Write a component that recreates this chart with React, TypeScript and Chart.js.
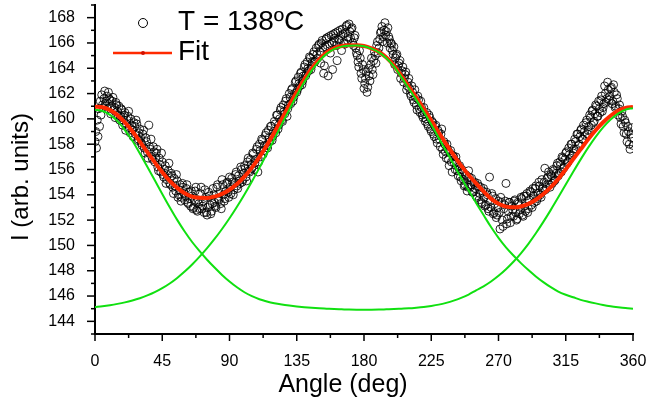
import { useEffect, useRef } from 'react';
import { Chart, registerables } from 'chart.js';

Chart.register(...registerables);

// ---------- DATA ----------
const seriesLabel = 'T = 138ºC';
const fitLabel = 'Fit';
const xTitle = 'Angle (deg)';
const yTitle = 'I (arb. units)';

const xTickValues = [0, 45, 90, 135, 180, 225, 270, 315, 360];
const yTickValues = [144, 146, 148, 150, 152, 154, 156, 158, 160, 162, 164, 166, 168];

// measured intensity, first pass: one value per degree starting at 0 deg
const scanStart = 0;
const scanStep = 1;
const scanIntensity = [
  158.2, 157.7, 158.6, 159.4, 160.3, 161.1, 161.6, 161.2, 161.8, 162.1,
  161.5, 161.0, 161.7, 160.9, 161.3, 160.6, 161.0, 160.2, 160.7, 159.9,
  160.5, 159.6, 160.2, 159.3, 160.0, 159.1, 159.7, 158.8, 159.6, 158.4,
  159.2, 158.1, 158.8, 157.7, 158.5, 157.4, 159.5, 157.6, 157.0, 157.8,
  156.6, 157.3, 156.2, 156.9, 155.8, 156.6, 155.4, 156.3, 155.2, 155.9,
  154.9, 155.7, 154.6, 155.3, 154.3, 155.1, 154.0, 154.8, 153.8, 154.6,
  153.6, 154.5, 153.4, 154.2, 153.1, 153.9, 153.0, 154.3, 152.8, 153.6,
  152.9, 154.6, 153.1, 152.6, 153.8, 152.4, 154.2, 153.2, 152.7, 154.5,
  153.4, 153.0, 154.8, 153.6, 153.3, 155.2, 154.0, 153.7, 154.9, 154.2,
  155.4, 154.1, 155.0, 154.4, 155.6, 154.7, 155.5, 154.9, 156.0, 155.2,
  156.3, 155.4, 156.6, 155.9, 156.8, 156.1, 157.2, 156.5, 157.6, 155.8,
  158.0, 157.0, 158.3, 157.5, 158.7, 157.9, 159.1, 158.2, 159.4, 158.6,
  159.8, 158.9, 160.3, 159.5, 160.7, 159.9, 161.1, 160.4, 161.6, 160.8,
  162.0, 161.2, 162.4, 161.7, 162.9, 162.1, 163.3, 162.6, 163.7, 163.0,
  164.1, 163.4, 164.5, 163.8, 164.8, 164.2, 165.1, 164.5, 165.6, 164.8,
  165.9, 164.4, 166.2, 163.6, 165.7, 166.4, 163.4, 165.9, 166.6, 163.9,
  166.1, 166.8, 164.6, 166.3, 167.0, 165.4, 166.7, 165.9, 167.3, 166.2,
  167.5, 166.4, 167.2, 165.8, 166.6, 165.2, 164.5, 165.4, 163.6, 164.3,
  162.4, 163.2, 162.1, 164.0, 163.0, 164.8, 163.5, 165.3, 164.4, 166.1,
  165.6, 166.8, 167.3, 166.5, 167.6, 166.9, 167.2, 166.3, 166.0, 165.4,
  165.7, 164.8, 165.1, 164.2, 164.6, 163.6, 164.1, 163.2, 163.7, 162.6,
  163.2, 162.0, 162.6, 161.5, 162.3, 161.1, 161.8, 160.8, 161.4, 160.3,
  160.9, 159.8, 160.5, 159.4, 160.1, 159.0, 159.7, 158.6, 159.5, 158.1,
  158.9, 157.8, 159.2, 157.2, 158.0, 156.9, 157.6, 156.3, 157.5, 155.8,
  157.0, 156.0, 156.6, 155.5, 156.3, 155.1, 155.8, 154.7, 155.6, 154.3,
  155.9, 154.6, 155.3, 154.2, 155.0, 153.9, 154.9, 153.6, 154.6, 153.3,
  154.5, 153.1, 154.2, 152.9, 155.4, 153.0, 153.9, 152.6, 153.7, 152.4,
  153.5, 151.3, 153.4, 151.5, 153.2, 154.9, 152.1, 153.4, 151.8, 153.1,
  152.3, 153.6, 152.0, 153.4, 152.5, 153.8, 152.4, 153.9, 152.7, 154.1,
  152.9, 154.3, 153.2, 154.5, 153.4, 154.7, 153.7, 155.0, 154.0, 155.2,
  154.3, 156.1, 154.6, 155.4, 154.8, 155.6, 154.9, 155.9, 155.2, 156.3,
  155.5, 156.6, 155.8, 156.9, 156.2, 157.3, 156.5, 157.7, 156.9, 158.0,
  157.3, 158.4, 157.6, 158.8, 158.0, 159.1, 158.4, 159.5, 158.7, 159.9,
  159.1, 160.3, 159.5, 160.7, 159.8, 161.1, 160.2, 161.4, 160.5, 161.8,
  160.9, 162.6, 161.3, 162.9, 161.5, 162.4, 161.2, 162.7, 160.9, 161.9,
  160.3, 161.1, 159.6, 160.2, 158.9, 159.7, 158.2, 159.0, 157.6, 158.5,
  157.9,
];

// measured intensity, second pass: one value per degree starting at 0.5 deg
const scan2Start = 0.5;
const scan2Step = 1;
const scan2Intensity = [
  159.0, 159.9, 160.8, 161.4, 161.9, 160.9, 162.2, 161.4, 160.8, 161.6,
  160.4, 161.4, 160.7, 160.1, 161.1, 160.3, 159.9, 160.8, 159.5, 160.3,
  159.1, 159.9, 160.6, 158.9, 159.5, 158.6, 159.4, 159.9, 158.3, 158.9,
  158.5, 157.9, 159.1, 157.3, 158.2, 156.9, 157.8, 158.4, 156.8, 157.4,
  156.9, 157.6, 155.9, 156.4, 157.3, 155.6, 156.0, 154.9, 155.6, 156.5,
  154.8, 155.5, 154.1, 154.7, 155.6, 153.8, 154.4, 153.5, 154.9, 154.1,
  153.9, 154.8, 153.3, 153.7, 154.3, 152.9, 153.5, 154.6, 152.7, 153.3,
  154.1, 152.9, 153.5, 154.4, 152.6, 153.0, 153.9, 152.5, 153.3, 154.0,
  153.1, 154.6, 153.7, 154.1, 152.9, 154.8, 153.5, 154.3, 155.0, 153.8,
  154.6, 155.3, 154.0, 154.9, 155.8, 154.5, 155.1, 156.2, 155.0, 155.7,
  156.1, 155.1, 156.9, 155.8, 156.4, 157.3, 156.0, 156.8, 157.8, 156.6,
  157.5, 158.4, 157.2, 157.9, 158.9, 157.7, 158.5, 159.4, 158.3, 159.0,
  159.6, 160.3, 159.2, 160.0, 160.9, 159.8, 160.6, 161.4, 160.2, 161.1,
  161.7, 162.3, 161.4, 162.0, 163.0, 162.3, 162.8, 163.6, 162.7, 163.4,
  164.3, 163.6, 164.0, 164.9, 163.9, 164.5, 165.3, 164.6, 165.1, 165.8,
  165.3, 166.0, 165.6, 164.2, 166.3, 165.8, 166.5, 165.2, 166.0, 166.7,
  166.4, 165.8, 166.9, 166.2, 166.6, 167.1, 166.0, 166.8, 167.4, 166.5,
  166.9, 167.1, 166.0, 166.4, 165.6, 165.0, 164.1, 164.8, 163.2, 163.9,
  162.8, 163.7, 162.5, 163.4, 164.3, 163.9, 164.6, 165.0, 165.8, 165.2,
  166.3, 166.9, 166.1, 167.0, 166.6, 166.0, 166.5, 165.6, 165.9, 165.1,
  164.3, 165.0, 163.9, 164.4, 163.2, 163.8, 162.9, 163.5, 162.3, 162.9,
  162.4, 161.8, 162.1, 161.3, 161.7, 160.7, 161.5, 160.5, 160.9, 160.1,
  160.4, 160.0, 159.6, 160.3, 159.2, 159.8, 158.8, 159.4, 158.4, 159.1,
  158.4, 158.8, 157.6, 158.2, 157.4, 158.0, 156.8, 157.3, 156.6, 157.1,
  156.5, 157.0, 155.9, 156.2, 155.4, 156.0, 155.2, 154.8, 155.5, 154.6,
  155.4, 154.8, 154.2, 154.9, 154.5, 153.8, 154.7, 154.1, 153.4, 154.3,
  153.8, 153.2, 154.0, 152.7, 153.5, 154.1, 152.5, 153.3, 152.2, 153.0,
  152.6, 153.8, 152.0, 152.9, 153.5, 151.7, 152.7, 153.4, 152.3, 152.8,
  153.5, 152.6, 152.1, 153.3, 152.8, 153.7, 152.3, 153.1, 153.9, 152.6,
  153.6, 154.2, 153.0, 153.9, 154.5, 153.5, 154.1, 154.7, 153.8, 154.5,
  155.0, 154.4, 155.3, 155.8, 154.6, 155.5, 156.0, 155.1, 155.7, 156.5,
  155.7, 156.4, 157.0, 156.1, 156.8, 157.4, 156.6, 157.2, 158.0, 157.1,
  157.6, 158.2, 158.8, 157.9, 158.6, 159.2, 158.4, 159.0, 159.7, 158.8,
  159.4, 160.1, 160.6, 159.7, 160.4, 161.0, 160.2, 160.8, 161.5, 160.6,
  161.2, 162.0, 161.6, 162.3, 161.8, 162.5, 161.4, 162.1, 161.0, 161.6,
  160.8, 160.1, 160.6, 159.4, 159.9, 158.8, 159.4, 158.0, 158.8, 159.3,
];

// fitted curves, sampled every 5 degrees
const fitAngles = [
  0, 5, 10, 15, 20, 25, 30, 35, 40, 45, 50, 55, 60, 65, 70, 75, 80, 85, 90,
  95, 100, 105, 110, 115, 120, 125, 130, 135, 140, 145, 150, 155, 160, 165, 170, 175, 180,
  185, 190, 195, 200, 205, 210, 215, 220, 225, 230, 235, 240, 245, 250, 255, 260, 265, 270,
  275, 280, 285, 290, 295, 300, 305, 310, 315, 320, 325, 330, 335, 340, 345, 350, 355, 360,
];

const fitIntensity = [
  160.96, 160.92, 160.7, 160.3, 159.72, 159.02, 158.2, 157.37, 156.56, 155.79,
  155.11, 154.55, 154.13, 153.86, 153.76, 153.75, 153.86, 154.07, 154.4,
  154.85, 155.43, 156.15, 156.98, 157.92, 158.93, 160.0, 161.08, 162.13, 163.11,
  163.98, 164.7, 165.24, 165.58, 165.76, 165.81, 165.81, 165.76,
  165.57, 165.28, 164.85, 164.22, 163.4, 162.53, 161.68, 160.79, 159.87, 158.92,
  158.01, 157.14, 156.31, 155.57, 154.9, 154.27, 153.7, 153.3,
  153.07, 153.01, 153.08, 153.28, 153.61, 154.06, 154.61, 155.25, 156.01, 156.82,
  157.6, 158.38, 159.1, 159.73, 160.25, 160.64, 160.87, 160.95,
];

const endPeakIntensity = [
  160.72, 160.62, 160.32, 159.82, 159.12, 158.27, 157.27, 156.22, 155.15, 154.07,
  153.02, 152.02, 151.1, 150.27, 149.55, 148.87, 148.25, 147.67, 147.15,
  146.69, 146.3, 145.99, 145.75, 145.57, 145.43, 145.33, 145.25, 145.18, 145.12,
  145.07, 145.03, 145.0, 144.97, 144.95, 144.93, 144.92, 144.92,
  144.92, 144.93, 144.95, 144.97, 145.0, 145.03, 145.08, 145.14, 145.22, 145.32,
  145.46, 145.64, 145.86, 146.12, 146.45, 146.77, 147.15, 147.6,
  148.12, 148.71, 149.38, 150.13, 150.96, 151.86, 152.81, 153.8, 154.81, 155.82,
  156.8, 157.73, 158.58, 159.33, 159.95, 160.42, 160.72, 160.85,
];

const centerPeakIntensity = [
  145.14, 145.2, 145.28, 145.38, 145.5, 145.65, 145.83, 146.05, 146.31, 146.62,
  146.99, 147.43, 147.93, 148.49, 149.11, 149.78, 150.51, 151.3, 152.15,
  153.06, 154.03, 155.06, 156.13, 157.25, 158.4, 159.57, 160.73, 161.85, 162.89,
  163.81, 164.57, 165.14, 165.51, 165.71, 165.78, 165.79, 165.74,
  165.55, 165.25, 164.8, 164.15, 163.3, 162.4, 161.5, 160.55, 159.55, 158.5,
  157.45, 156.4, 155.35, 154.35, 153.35, 152.4, 151.45, 150.6,
  149.85, 149.2, 148.6, 148.05, 147.55, 147.1, 146.7, 146.35, 146.1, 145.9,
  145.7, 145.55, 145.42, 145.3, 145.2, 145.12, 145.05, 145.0,
];

// ---------- STYLE ----------
const RED = '#ff2a00';
const GREEN = '#10e010';
const FONT = '"Liberation Sans", Arial, Helvetica, sans-serif';

const decorPlugin = {
  id: 'decor',
  afterDraw(chart: any) {
    const ctx = chart.ctx as CanvasRenderingContext2D;
    const xs = chart.scales.x;
    const ys = chart.scales.y;
    const area = chart.chartArea;
    ctx.save();
    ctx.strokeStyle = '#000';
    ctx.lineWidth = 1.5;
    xs.ticks.forEach((t: any) => {
      const px = xs.getPixelForValue(t.value);
      const len = xTickValues.includes(t.value) ? 7 : 4;
      ctx.beginPath();
      ctx.moveTo(px, area.bottom);
      ctx.lineTo(px, area.bottom + len);
      ctx.stroke();
    });
    ys.ticks.forEach((t: any) => {
      const py = ys.getPixelForValue(t.value);
      const len = yTickValues.includes(t.value) ? 8 : 4;
      ctx.beginPath();
      ctx.moveTo(area.left, py);
      ctx.lineTo(area.left - len, py);
      ctx.stroke();
    });

    // axis titles
    ctx.fillStyle = '#000';
    ctx.textAlign = 'center';
    ctx.textBaseline = 'alphabetic';
    ctx.font = `25px ${FONT}`;
    ctx.fillText(xTitle, 343, 392);
    ctx.font = `24px ${FONT}`;
    ctx.save();
    ctx.translate(28, 177);
    ctx.rotate(-Math.PI / 2);
    ctx.fillText(yTitle, 0, 0);
    ctx.restore();

    // legend
    ctx.lineWidth = 1;
    ctx.beginPath();
    ctx.arc(143, 23, 4.5, 0, Math.PI * 2);
    ctx.stroke();
    ctx.font = `28px ${FONT}`;
    ctx.textAlign = 'left';
    ctx.fillText(seriesLabel, 178, 30);
    ctx.strokeStyle = RED;
    ctx.lineWidth = 2.5;
    ctx.beginPath();
    ctx.moveTo(113, 53);
    ctx.lineTo(172, 53);
    ctx.stroke();
    ctx.fillStyle = '#d01000';
    ctx.beginPath();
    ctx.arc(143, 53, 2, 0, Math.PI * 2);
    ctx.fill();
    ctx.fillStyle = '#000';
    ctx.fillText(fitLabel, 178, 60);
    ctx.restore();
  },
};

export default function App() {
  const ref = useRef<HTMLCanvasElement | null>(null);

  useEffect(() => {
    if (!ref.current) return;
    const line = (vals: number[]) => fitAngles.map((a, i) => ({ x: a, y: vals[i] }));
    const scanPoints = [
      ...scanIntensity.map((v, i) => ({ x: scanStart + i * scanStep, y: v })),
      ...scan2Intensity.map((v, i) => ({ x: scan2Start + i * scan2Step, y: v })),
    ];
    const lineStyle = {
      type: 'line',
      pointRadius: 0,
      cubicInterpolationMode: 'monotone',
      fill: false,
    };
    const chart = new Chart(ref.current, {
      type: 'scatter',
      data: {
        datasets: [
          { ...lineStyle, label: 'Peak 1', data: line(endPeakIntensity), borderColor: GREEN, borderWidth: 2, order: 0 } as any,
          { ...lineStyle, label: 'Peak 2', data: line(centerPeakIntensity), borderColor: GREEN, borderWidth: 2, order: 0 } as any,
          { ...lineStyle, label: fitLabel, data: line(fitIntensity), borderColor: RED, borderWidth: 4, order: 1 } as any,
          {
            type: 'scatter',
            label: seriesLabel,
            data: scanPoints,
            pointStyle: 'circle',
            pointRadius: 4,
            borderColor: '#000',
            borderWidth: 0.85,
            backgroundColor: 'rgba(255,255,255,0)',
            order: 2,
          } as any,
        ],
      },
      options: {
        animation: false,
        responsive: false,
        maintainAspectRatio: false,
        layout: { padding: { left: 0, right: 13, top: 5, bottom: 0 } },
        plugins: { legend: { display: false }, tooltip: { enabled: false } },
        scales: {
          x: {
            type: 'linear',
            min: 0,
            max: 360,
            grid: { display: false },
            border: { display: true, color: '#000', width: 2 },
            ticks: {
              stepSize: 22.5,
              autoSkip: false,
              maxTicksLimit: 100,
              maxRotation: 0,
              padding: 10,
              color: '#000',
              font: { family: FONT, size: 16 },
              callback: (v: any) => (xTickValues.includes(Number(v)) ? String(v) : ''),
            },
            afterFit: (s: any) => {
              s.height = 71;
              s.paddingLeft = 0;
              s.paddingRight = 0;
            },
          },
          y: {
            type: 'linear',
            min: 143,
            max: 169,
            grid: { display: false },
            border: { display: true, color: '#000', width: 2 },
            ticks: {
              stepSize: 1,
              autoSkip: false,
              maxTicksLimit: 100,
              padding: 12,
              color: '#000',
              font: { family: FONT, size: 16 },
              callback: (v: any) => (yTickValues.includes(Number(v)) ? String(v) : ''),
            },
            afterFit: (s: any) => {
              s.width = 95;
              s.paddingTop = 0;
              s.paddingBottom = 0;
            },
          },
        },
      },
      plugins: [decorPlugin],
    } as any);
    return () => chart.destroy();
  }, []);

  return (
    <div style={{ position: 'fixed', left: 0, top: 0, width: 646, height: 405, background: '#fff' }}>
      <canvas ref={ref} width={646} height={405} style={{ width: 646, height: 405 }} />
    </div>
  );
}
